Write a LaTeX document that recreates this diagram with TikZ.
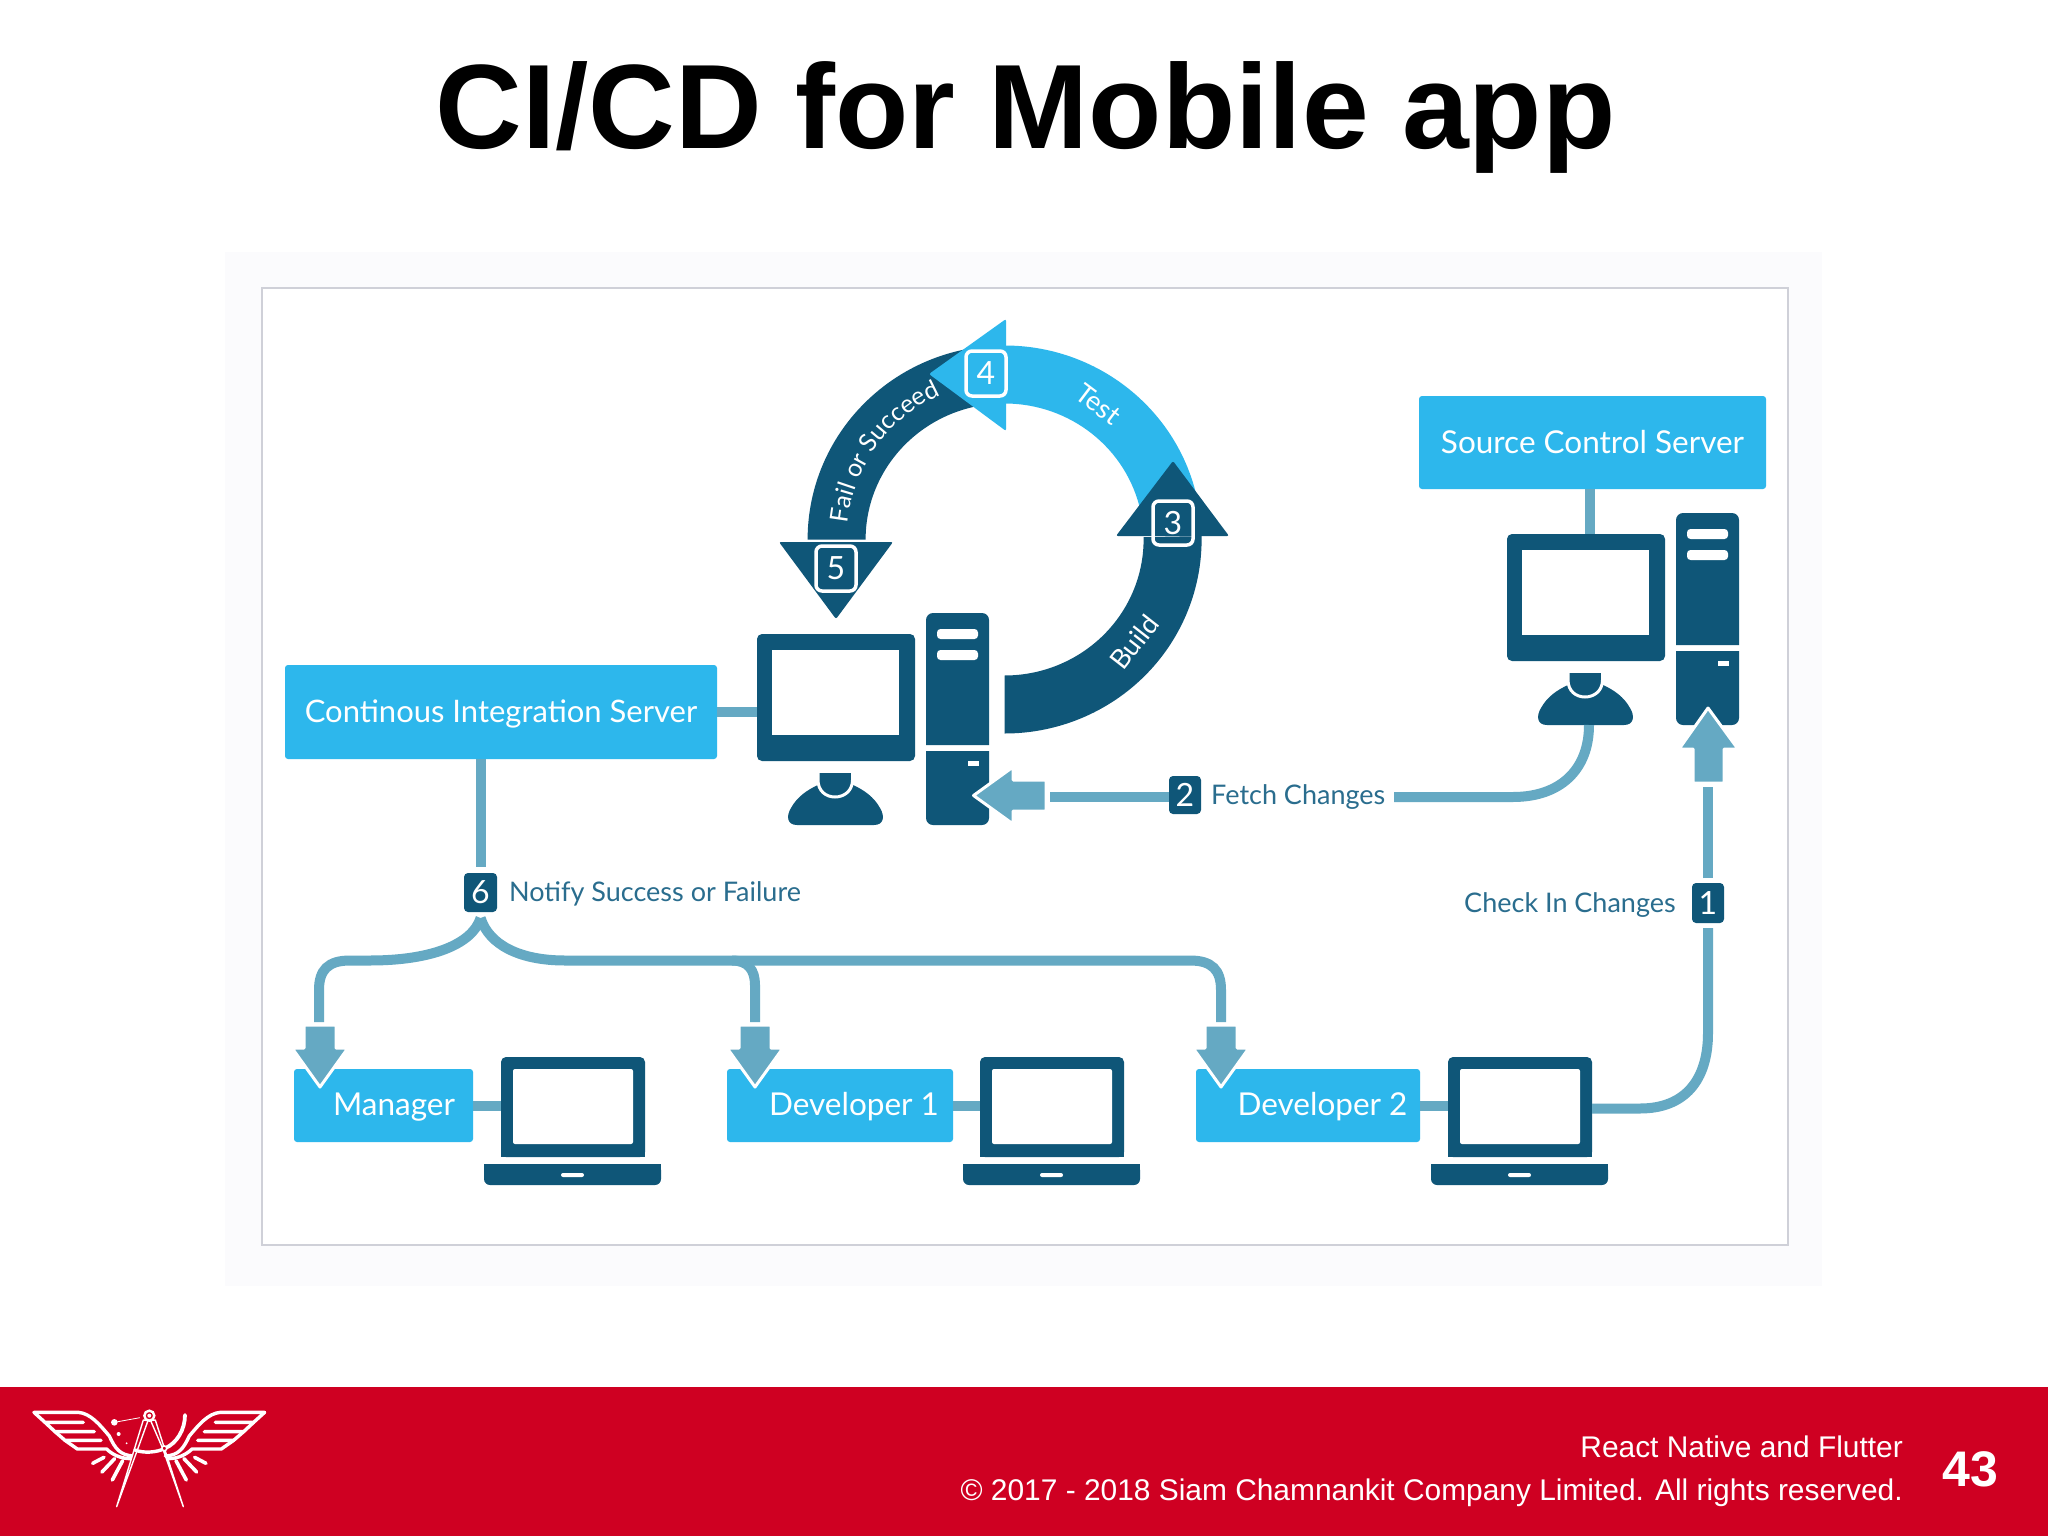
\documentclass[tikz,border=0pt]{standalone}
\usepackage{fontspec}
\setmainfont{Liberation Sans}
\newfontfamily\gill{Lato}
\usetikzlibrary{calc,decorations.text}
\definecolor{lightb}{HTML}{2DB7EC}
\definecolor{darkb}{HTML}{0F5678}
\definecolor{midb}{HTML}{65A9C3}
\definecolor{labelc}{HTML}{2A6D8E}
\definecolor{footred}{HTML}{CF0022}
\definecolor{paleframe}{HTML}{FBFBFD}
\definecolor{framec}{HTML}{CFD0D8}
\newcommand{\fsz}[1]{\fontsize{#1}{#1}\selectfont}
\tikzset{
  box/.style={rectangle,inner sep=0pt,outer sep=0pt},
  lightbox/.style={box,fill=lightb,rounded corners=3pt},
  iconbody/.style={box,fill=darkb,rounded corners=5pt},
  screen/.style={box,fill=white},
  link/.style={draw=midb,line width=10pt},
  fatarrow/.style={fill=midb,draw=white,line width=3pt,line join=round},
  boxtext/.style={inner sep=0pt,text=white,font=\gill\fsz{31.5}},
  flowtext/.style={inner sep=0pt,text=labelc,font=\gill\fsz{27}},
  darkbadge/.style={box,fill=darkb,rounded corners=4pt,text=white,font=\gill\fsz{32}},
  ringbadge/.style={box,draw=white,line width=3.5pt,rounded corners=6pt,text=white,font=\gill\fsz{32}},
  ringtext/.style={inner sep=0pt,text=white,font=\gill\fsz{27}},
  logoline/.style={draw=white,line width=3.4pt,line cap=round,line join=round},
}
% rectangle node by its corners: name, x1,y1,x2,y2, style, text
\newcommand{\bx}[7]{\node[#6,minimum width={(#4-#2)*1pt},minimum height={(#5-#3)*1pt}] (#1) at ({(#2+#4)/2},{(#3+#5)/2}) {#7};}
% computer: monitor, tower and person
\newcommand{\computer}[3]{%
\begin{scope}[shift={(#2,#3)}]
  \bx{#1mon}{757}{634}{915}{761}{iconbody}{}
  \bx{#1scr}{772}{650}{899}{735}{screen}{}
  \fill[darkb] (926,745) [rounded corners=7pt]-- (926,613) -- (989,613) -- (989,700) [sharp corners]-- (989,745) -- cycle;
  \fill[darkb] (926,751) -- (989,751) [rounded corners=7pt]-- (989,825) -- (926,825) -- (926,770) [sharp corners]-- (926,751) -- cycle;
  \fill[white,rounded corners=3.5pt] (937,629) rectangle (978,639);
  \fill[white,rounded corners=3.5pt] (937,650) rectangle (978,660);
  \fill[white] (967.5,761) rectangle (979,766);
  \fill[darkb] (797,825) .. controls (787,825) and (786,816) .. (791,808) .. controls (797,797) and (807,790) .. (818,785) -- (853,785) .. controls (864,790) and (874,797) .. (880,808) .. controls (885,816) and (884,825) .. (874,825) -- cycle;
  \filldraw[fill=darkb,draw=white,line width=3pt] (818,770) -- (852.5,770) -- (852.5,780) .. controls (852.5,791) and (844,797) .. (835,797) .. controls (826,797) and (818,791) .. (818,780) -- cycle;
  \fill[white] (815,765) rectangle (856,773);
\end{scope}}
% laptop
\newcommand{\laptopicon}[2]{%
\begin{scope}[shift={(#2,0)}]
  \bx{#1body}{501}{1057}{645}{1157}{iconbody}{}
  \bx{#1scr}{513}{1069}{633}{1144}{screen,rounded corners=2pt}{}
  \fill[darkb,rounded corners=6pt] (484,1164) -- (661,1164) -- (661,1185) -- (484,1185) -- cycle;
  \fill[darkb] (484,1164) rectangle (661,1172);
  \fill[white,rounded corners=2pt] (561,1173) rectangle (584,1177);
  \fill[darkb] (501,1150) rectangle (645,1157);
\end{scope}}
% down arrow with its tip at x, y
\newcommand{\dnarrow}[2]{%
  \filldraw[fatarrow] (#1-16,#2-62) -- (#1+16,#2-62) -- (#1+16,#2-39) -- (#1+28,#2-39) -- (#1,#2) -- (#1-28,#2-39) -- (#1-16,#2-39) -- cycle;}
% half of the logo
\newcommand{\logowing}{%
  \draw[logoline] (102,97) -- (235,97) .. controls (272,100) and (300,135) .. (328,168) .. controls (345,205) and (360,226) .. (400,228);
  \draw[logoline] (102,97) -- (135,127) -- (250,127);
  \draw[logoline] (135,127) -- (165,155) -- (283,155);
  \draw[logoline] (165,155) -- (195,181) -- (303,181);
  \draw[logoline] (195,181) -- (232,207) -- (320,207) .. controls (335,222) and (360,236) .. (392,236);
  \draw[logoline,line width=3.6pt] (278,250) -- (312,232);
  \draw[logoline,line width=3.6pt] (306,276) -- (344,236);
  \draw[logoline,line width=3.6pt] (337,300) -- (368,242);
}
\begin{document}
\begin{tikzpicture}[x=1pt,y=-1pt]
\useasboundingbox (0,0) rectangle (2048,1536);
\fill[white] (0,0) rectangle (2048,1536);
% title
\node[inner sep=0pt,anchor=base,font=\bfseries\fsz{120}] (title) at (1025.5,149) {CI/CD for Mobile app};
% picture frames
\bx{outer}{225}{252}{1822}{1286}{box,fill=paleframe}{}
\bx{inner}{262}{288}{1788}{1245}{box,fill=white,draw=framec,line width=1.6pt}{}
% ring arrows
\begin{scope}[shift={(1004.6,539.5)}]
  \fill[darkb] (180:197pt and 194pt) arc[start angle=180,end angle=92,x radius=197pt,y radius=194pt] -- (92:139pt and 136pt) arc[start angle=92,end angle=180,x radius=139pt,y radius=136pt] -- cycle;
  \fill[lightb] (90:197pt and 194pt) arc[start angle=90,end angle=12,x radius=197pt,y radius=194pt] -- (12:139pt and 136pt) arc[start angle=12,end angle=90,x radius=139pt,y radius=136pt] -- cycle;
  \fill[darkb] (270:197pt and 194pt) arc[start angle=270,end angle=361,x radius=197pt,y radius=194pt] -- (1:139pt and 136pt) arc[start angle=361,end angle=270,x radius=139pt,y radius=136pt] -- cycle;
  \path[decorate,decoration={text along path,text align=center,text={|\gill\fsz{25}\color{white}|Fail or Succeed}}] (176:158pt) arc[start angle=176,end angle=112,radius=158pt];
\end{scope}
\fill[darkb,rounded corners=2pt] (1116,536) -- (1173,461) -- (1229,536) -- cycle;
\fill[lightb,rounded corners=2pt] (1006,319) -- (929,374) -- (1006,431) -- cycle;
\fill[darkb,rounded corners=2pt] (779,542) -- (893,542) -- (836,619) -- cycle;
\bx{bfour}{966}{351}{1006}{396}{ringbadge}{4}
\bx{bthree}{1153}{501}{1193}{545}{ringbadge}{3}
\bx{bfive}{816}{546}{856}{591}{ringbadge}{5}
\node[ringtext,rotate=-37] (ltest) at (1098.5,404) {Test};
\node[ringtext,rotate=52] (lbuild) at (1134,642) {Build};
% computers
\computer{ciq}{0}{0}
\computer{src}{750}{-100}
% boxes
\bx{ci}{285}{665}{717}{759}{lightbox}{}
\node[boxtext,font=\gill\fsz{31},anchor=base] (lci) at (501,722) {Continous Integration Server};
\bx{source}{1419}{396}{1766}{489}{lightbox,boxtext}{Source Control Server}
\bx{manager}{294}{1069}{473}{1142}{lightbox}{}
\bx{devone}{727}{1069}{953}{1142}{lightbox}{}
\bx{devtwo}{1196}{1069}{1420}{1142}{lightbox}{}
\node[boxtext,anchor=base] (lmanager) at (394,1115) {Manager};
\node[boxtext,anchor=base] (ldevone) at (854,1115) {Developer 1};
\node[boxtext,anchor=base] (ldevtwo) at (1322.5,1115) {Developer 2};
% laptops
\laptopicon{lapa}{0}
\laptopicon{lapb}{479}
\laptopicon{lapc}{947}
% badges and flow labels
\bx{btwo}{1169}{776}{1201}{814}{darkbadge}{2}
\bx{bsix}{464}{873}{497}{912}{darkbadge}{6}
\bx{bone}{1692}{883}{1724}{923}{darkbadge}{1}
\node[flowtext,anchor=base west] (lfetch) at (1211,804) {Fetch Changes};
\node[flowtext,anchor=base west] (lnotify) at (509,901) {Notify Success or Failure};
\node[flowtext,anchor=base east] (lcheck) at (1676,912) {Check In Changes};
% simple links
\draw[link] (ci.east) -- (ci.east -| ciqmon.west);
\coordinate (srclink) at (1590,500);
\draw[link] (srclink |- srcmon.north) -- (srclink |- source.south);
\coordinate (cidown) at (480.6,867);
\draw[link] (cidown |- ci.south) -- (cidown);
\coordinate (linky) at (0,1105.5);
\draw[link] (manager.east |- linky) -- (lapabody.west |- linky);
\draw[link] (devone.east |- linky) -- (lapbbody.west |- linky);
\draw[link] (devtwo.east |- linky) -- (lapcbody.west |- linky);
% fetch
\coordinate (fetchstart) at (1589,725);
\coordinate (fetchend) at (1394,797);
\coordinate (fetcharrow) at (1050,797);
\draw[link] (fetchstart) .. controls (1589,770) and (1560,797) .. (1513,797) -- (fetchend);
\draw[link] (btwo.west |- fetcharrow) -- (fetcharrow);
\filldraw[fatarrow] (1046,780) -- (1046,811) -- (1013,811) -- (1013,824) -- (973.5,795.5) -- (1013,767) -- (1013,780) -- cycle;
% notify tree
\coordinate (fork) at (480.6,918);
\coordinate (toa) at (319,1022);
\coordinate (tob) at (755,1022);
\coordinate (toc) at (1221,1022);
\draw[link] (fork) .. controls (472,945) and (430,960.5) .. (370,960.5) -- (350,960.5) .. controls (328,960.5) and (319,970) .. (319,990) -- (toa);
\draw[link] (fork) .. controls (489,945) and (520,960.5) .. (565,960.5) -- (1190,960.5) .. controls (1212,960.5) and (1221,970) .. (1221,990) -- (toc);
\draw[link] (732,960.5) .. controls (748,960.5) and (755,970) .. (755,985) -- (tob);
\dnarrow{320}{1087}
\dnarrow{755}{1087}
\dnarrow{1221}{1087}
% check in
\coordinate (lapout) at (1592,1108.5);
\coordinate (checktop) at (1708,787);
\draw[link] (lapout) -- (1640,1108.5) .. controls (1685,1108.5) and (1708,1080) .. (1708,1033) -- (1708,928);
\draw[link] (1708,878) -- (checktop);
\filldraw[fatarrow] (1693,783) -- (1724,783) -- (1724,749) -- (1738,749) -- (1708,708) -- (1679,749) -- (1693,749) -- cycle;
% footer
\fill[footred] (0,1387) rectangle (2048,1536);
\node[inner sep=0pt,anchor=base east,text=white,font=\fsz{29.9}] (fone) at (1903,1457) {React Native and Flutter};
\node[inner sep=0pt,anchor=base east,text=white,font=\fsz{29.9}] (ftwo) at (1903,1500) {© 2017 - 2018 Siam Chamnankit Company Limited. All rights reserved.};
\node[inner sep=0pt,anchor=base,text=white,font=\bfseries\fsz{50}] (fnum) at (1970,1486) {43};
% logo
\begin{scope}[shift={(0,1380)},x=0.3333pt,y=-0.3333pt]
  \logowing
  \begin{scope}[shift={(896,0)},xscale=-1]\logowing\end{scope}
  \filldraw[draw=white,fill=footred,line width=2.4pt] (448,107) circle[radius=5pt];
  \fill[white] (448,107) circle[radius=2pt];
  \filldraw[draw=white,fill=footred,line width=1.4pt,line join=round] (430,120) -- (350,380) -- (414,205) -- (444,122) -- cycle;
  \filldraw[draw=white,fill=footred,line width=1.4pt,line join=round] (466,120) -- (550,380) -- (488,205) -- (452,122) -- cycle;
  \draw[logoline] (405,210) .. controls (430,220) and (470,218) .. (495,205);
  \draw[logoline,line width=3.8pt] (495,205) .. controls (530,190) and (555,150) .. (555,105);
  \filldraw[draw=white,fill=footred,line width=1.5pt] (493,205) circle[radius=2.4pt];
  \fill[white] (343,127) circle[radius=3.3pt];
  \draw[white,line width=0.8pt] (343,127) -- (420,113);
  \fill[white] (356,162) circle[radius=2pt];
  \fill[white] (380,190) circle[radius=1pt];
\end{scope}
\end{tikzpicture}
\end{document}
